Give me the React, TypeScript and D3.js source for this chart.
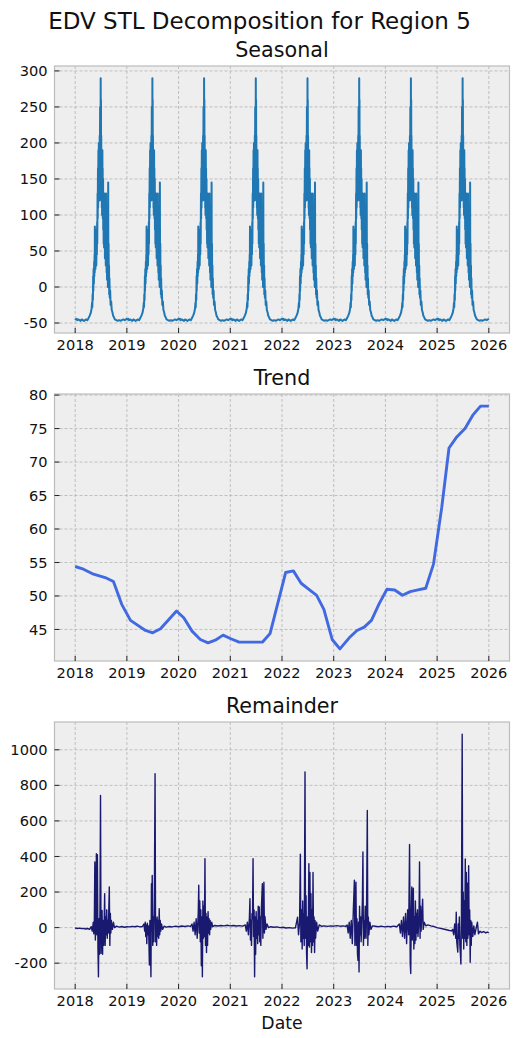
import React from "react";
import * as d3 from "d3";

// ---------- DATA ----------
const YEARS = [2018, 2019, 2020, 2021, 2022, 2023, 2024, 2025];
const X_TICKS = [2018, 2019, 2020, 2021, 2022, 2023, 2024, 2025, 2026];
const SEASONAL_TICKS = [-50, 0, 50, 100, 150, 200, 250, 300];
const TREND_TICKS = [45, 50, 55, 60, 65, 70, 75, 80];
const REMAINDER_TICKS = [-200, 0, 200, 400, 600, 800, 1000];

// one seasonal cycle: [day of year, value] (pattern repeats every year)
const SEASONAL_CYCLE: [number, number][] = [
  [0, -44], [4, -45], [9, -44], [15, -46], [22, -45], [30, -46], [38, -47], [46, -45],
  [54, -46], [62, -47], [70, -46], [78, -45], [86, -46], [92, -44], [97, -42], [102, -40],
  [106, -38], [110, -36], [113, -33], [116, -30], [119, -22], [121, -28], [123, -10], [125, -18],
  [127, 15], [128, -5], [130, 25], [132, 5], [134, 35], [135, 15], [137, 45], [138, 20],
  [139, 84], [140, 35], [142, 60], [143, 25], [145, 80], [146, 40], [148, 55], [149, 30],
  [151, 60], [153, 45], [155, 90], [156, 60], [158, 130], [159, 95], [161, 165], [162, 110],
  [164, 190], [165, 140], [167, 200], [168, 150], [170, 175], [171, 120], [173, 210], [174, 160],
  [176, 250], [177, 190], [178, 230], [179, 170], [180, 290], [181, 200], [182, 260], [183, 150],
  [184, 210], [185, 120], [187, 170], [188, 110], [189, 140], [190, 100], [192, 190], [193, 130],
  [194, 165], [195, 95], [197, 150], [198, 80], [200, 120], [201, 60], [203, 100], [204, 55],
  [206, 130], [207, 70], [209, 95], [210, 40], [212, 96], [213, 50], [215, 75], [216, 30],
  [218, 130], [219, 60], [221, 90], [222, 20], [224, 60], [225, 10], [227, 68], [228, 25],
  [230, 40], [231, 0], [233, 145], [234, 40], [236, 60], [237, 10], [239, 30], [240, -10],
  [242, 12], [244, -15], [247, -5], [250, -25], [254, -20], [258, -32], [263, -35], [268, -40],
  [274, -42], [280, -45], [290, -46], [300, -47], [310, -46], [320, -47], [330, -46], [340, -45],
  [350, -46], [358, -45], [365, -44],
];

// trend: [decimal year, value]
const TREND: [number, number][] = [
  [2018.0, 54.4], [2018.16, 54.0], [2018.355, 53.25], [2018.58, 52.75], [2018.74, 52.15],
  [2018.9, 48.75], [2019.07, 46.35], [2019.36, 44.85], [2019.5, 44.5], [2019.65, 45.1],
  [2019.96, 47.75], [2020.1, 46.75], [2020.26, 44.75], [2020.42, 43.5], [2020.57, 43.0],
  [2020.71, 43.4], [2020.86, 44.15], [2021.0, 43.65], [2021.17, 43.1], [2021.62, 43.1],
  [2021.77, 44.4], [2022.07, 53.5], [2022.22, 53.75], [2022.37, 51.9], [2022.52, 51.0],
  [2022.67, 50.1], [2022.81, 48.0], [2022.97, 43.5], [2023.12, 42.1], [2023.3, 43.75],
  [2023.45, 44.85], [2023.59, 45.35], [2023.73, 46.35], [2023.88, 48.85], [2024.03, 51.0],
  [2024.18, 50.9], [2024.33, 50.1], [2024.48, 50.65], [2024.63, 50.9], [2024.78, 51.15],
  [2024.93, 54.75], [2025.09, 63.25], [2025.23, 72.1], [2025.38, 73.75], [2025.54, 75.0],
  [2025.69, 77.0], [2025.84, 78.35], [2026.0, 78.35],
];

// remainder: [decimal year, value]
const REMAINDER: [number, number][] = [
  [2018.0, -2], [2018.04, -5], [2018.08, -3], [2018.12, -6], [2018.16, -4], [2018.2, -8], [2018.24, -5],
  [2018.28, -10], [2018.31, 5], [2018.33, -20], [2018.35, 30], [2018.36, -35], [2018.37, 10],
  [2018.38, 369], [2018.39, -70], [2018.4, 60], [2018.41, 415], [2018.42, -40], [2018.43, 410],
  [2018.44, -110], [2018.45, -277], [2018.46, 50], [2018.47, -150], [2018.48, 120], [2018.49, 743],
  [2018.5, -145], [2018.51, 30], [2018.52, 97], [2018.53, -150], [2018.54, 40], [2018.55, -100],
  [2018.56, 20], [2018.57, 190], [2018.58, -100], [2018.59, 60], [2018.6, -40], [2018.61, 100],
  [2018.62, -60], [2018.63, 40], [2018.64, -30], [2018.66, 228], [2018.67, -100], [2018.68, 80],
  [2018.69, -30], [2018.7, 40], [2018.72, -10], [2018.74, 30], [2018.76, 0], [2018.8, 8],
  [2018.85, 3], [2018.9, 6], [2018.95, 2], [2019.0, 5], [2019.05, 4], [2019.1, 7], [2019.15, 5],
  [2019.2, 8], [2019.25, 4], [2019.3, 6],
  [2019.33, 20], [2019.345, -20], [2019.355, 30], [2019.365, -50], [2019.375, 15], [2019.385, -90],
  [2019.395, 25], [2019.41, -40], [2019.42, 10], [2019.435, -210], [2019.445, 40], [2019.455, -60],
  [2019.465, -277], [2019.475, 247], [2019.48, -20], [2019.49, 294], [2019.5, -100], [2019.51, 60],
  [2019.52, -80], [2019.53, 100], [2019.545, 865], [2019.555, -80], [2019.565, 48], [2019.575, -100],
  [2019.585, 60], [2019.595, -50], [2019.605, 40], [2019.615, -60], [2019.625, 107], [2019.635, -40],
  [2019.645, 40], [2019.655, -20], [2019.67, 20], [2019.69, -10], [2019.72, 8], [2019.76, 3],
  [2019.82, 6], [2019.88, 4], [2019.94, 8], [2020.0, 5], [2020.06, 9], [2020.12, 6], [2020.18, 10],
  [2020.23, 7],
  [2020.26, 20], [2020.28, -20], [2020.3, 30], [2020.32, -40], [2020.34, 50], [2020.36, -60],
  [2020.38, 80], [2020.39, 238], [2020.4, -30], [2020.41, 150], [2020.42, -80], [2020.43, 100],
  [2020.44, -215], [2020.45, 60], [2020.46, -277], [2020.47, 150], [2020.48, -60], [2020.49, 120],
  [2020.5, -50], [2020.51, 388], [2020.52, -100], [2020.53, 80], [2020.54, -140], [2020.55, 60],
  [2020.56, -100], [2020.57, 90], [2020.58, -30], [2020.59, 50], [2020.6, -40], [2020.61, 40],
  [2020.62, -10], [2020.64, 30], [2020.66, 5], [2020.7, 12], [2020.76, 9], [2020.82, 12],
  [2020.88, 10], [2020.94, 13], [2021.0, 10], [2021.06, 12], [2021.12, 9], [2021.18, 11], [2021.24, 8],
  [2021.29, 15], [2021.31, -20], [2021.33, 30], [2021.35, -40], [2021.37, 60], [2021.38, 163],
  [2021.39, -70], [2021.4, 40], [2021.41, -100], [2021.42, 80], [2021.43, 50], [2021.44, 388],
  [2021.45, -50], [2021.46, 100], [2021.47, -277], [2021.48, 60], [2021.49, -150], [2021.5, 90],
  [2021.51, -60], [2021.52, 40], [2021.53, -90], [2021.54, 120], [2021.55, -40], [2021.56, 116],
  [2021.57, -80], [2021.58, 60], [2021.59, -100], [2021.6, 100], [2021.62, 247], [2021.63, -60],
  [2021.64, 90], [2021.65, 255], [2021.66, -30], [2021.67, 63], [2021.69, -10], [2021.71, 20],
  [2021.74, 0], [2021.78, 5], [2021.84, 2], [2021.9, 4], [2021.96, 0], [2022.02, 2], [2022.08, -2],
  [2022.14, 0], [2022.2, -3], [2022.26, -1],
  [2022.3, 58], [2022.32, -40], [2022.34, 30], [2022.355, 413], [2022.365, -80], [2022.38, 100],
  [2022.39, -120], [2022.4, 150], [2022.41, -60], [2022.42, 80], [2022.43, -100], [2022.445, 876],
  [2022.455, -60], [2022.465, 180], [2022.475, -150], [2022.485, -232], [2022.495, 60],
  [2022.505, -100], [2022.52, 360], [2022.53, -110], [2022.54, 310], [2022.55, -80], [2022.56, 190],
  [2022.57, -140], [2022.58, 100], [2022.59, -100], [2022.6, 310], [2022.61, -80], [2022.62, 60],
  [2022.63, -140], [2022.64, 40], [2022.65, -60], [2022.67, 30], [2022.69, -20], [2022.72, 15],
  [2022.76, 8], [2022.82, 10], [2022.88, 7], [2022.94, 10], [2023.0, 8], [2023.06, 11], [2023.12, 8],
  [2023.18, 10], [2023.23, 7],
  [2023.26, 15], [2023.28, -30], [2023.3, 30], [2023.32, -60], [2023.34, 40], [2023.36, -90],
  [2023.38, 100], [2023.4, 266], [2023.41, -100], [2023.42, 60], [2023.43, 256], [2023.44, -100],
  [2023.45, 50], [2023.46, -150], [2023.47, -184], [2023.48, 30], [2023.49, -249], [2023.5, 120],
  [2023.51, -40], [2023.52, 60], [2023.53, -80], [2023.545, 50], [2023.555, 153], [2023.565, 425],
  [2023.575, -100], [2023.585, 40], [2023.595, -60], [2023.61, 120], [2023.625, -60], [2023.635, 80],
  [2023.65, 659], [2023.66, -100], [2023.67, 60], [2023.68, -40], [2023.7, 30], [2023.72, -10],
  [2023.75, 10], [2023.8, 8], [2023.86, 5], [2023.92, 8], [2023.98, 4], [2024.04, 7], [2024.1, 5],
  [2024.16, 8], [2024.22, 5],
  [2024.27, 20], [2024.29, -30], [2024.31, 40], [2024.33, -50], [2024.35, 60], [2024.37, -60],
  [2024.39, 80], [2024.41, -90], [2024.43, 100], [2024.45, -40], [2024.467, 468], [2024.48, -200],
  [2024.49, -258], [2024.5, 80], [2024.51, 228], [2024.52, -70], [2024.53, 120], [2024.54, 222],
  [2024.55, -120], [2024.56, 60], [2024.57, -90], [2024.58, 150], [2024.59, -70], [2024.6, 80],
  [2024.61, -30], [2024.62, 100], [2024.63, -50], [2024.65, 60], [2024.66, 369], [2024.67, -60],
  [2024.68, 120], [2024.69, -20], [2024.7, 40], [2024.72, 160], [2024.73, -10], [2024.75, 30],
  [2024.78, 10], [2024.82, 15], [2024.88, 10], [2024.94, 6], [2025.0, 0], [2025.06, -4],
  [2025.12, -8], [2025.18, -12], [2025.24, -16], [2025.28, -18],
  [2025.3, -10], [2025.32, -40], [2025.34, 20], [2025.36, -60], [2025.37, 86], [2025.38, -80],
  [2025.4, -138], [2025.41, 20], [2025.42, -60], [2025.43, 60], [2025.44, -100], [2025.45, -146],
  [2025.46, -205], [2025.47, 40], [2025.485, 1088], [2025.495, -60], [2025.505, 200],
  [2025.515, -120], [2025.525, 150], [2025.535, -60], [2025.545, 386], [2025.555, -80],
  [2025.565, 310], [2025.575, -100], [2025.585, 250], [2025.595, -60], [2025.61, 348],
  [2025.62, -40], [2025.63, 100], [2025.64, -195], [2025.65, 40], [2025.66, -100], [2025.67, 30],
  [2025.69, -50], [2025.71, 10], [2025.73, -40], [2025.75, -10], [2025.78, 30], [2025.8, -35],
  [2025.83, -20], [2025.86, -28], [2025.9, -22], [2025.94, -30], [2025.97, -25], [2026.0, -28],
];

// ---------- BUILD SERIES ----------
const SEASONAL: [number, number][] = [];
YEARS.forEach((yr, i) => {
  SEASONAL_CYCLE.forEach(([d, v], j) => {
    if (j === SEASONAL_CYCLE.length - 1 && i < YEARS.length - 1) return;
    SEASONAL.push([yr + d / 365, v]);
  });
});

// ---------- LAYOUT ----------
const W = 519;
const H = 1038;
const LEFT = 54.5;
const RIGHT = 509.5;
const PH = 267;
const TOPS = [66, 394, 722];
const FONT = "DejaVu Sans, sans-serif";

const x = d3.scaleLinear().domain([2017.6, 2026.4]).range([LEFT, RIGHT]);

function paddedDomain(data: [number, number][]): [number, number] {
  const [lo, hi] = d3.extent(data, (d) => d[1]) as [number, number];
  const pad = (hi - lo) * 0.05;
  return [lo - pad, hi + pad];
}

type PanelProps = {
  top: number;
  title: string;
  data: [number, number][];
  ticks: number[];
  color: string;
  width: number;
};

function Panel({ top, title, data, ticks, color, width }: PanelProps) {
  const bottom = top + PH;
  const y = d3.scaleLinear().domain(paddedDomain(data)).range([bottom, top]);
  const line = d3
    .line<[number, number]>()
    .x((d) => x(d[0]))
    .y((d) => y(d[1]));
  const clipId = "clip" + top;
  return (
    <g>
      <defs>
        <clipPath id={clipId}>
          <rect x={LEFT} y={top} width={RIGHT - LEFT} height={PH} />
        </clipPath>
      </defs>
      <rect x={LEFT} y={top} width={RIGHT - LEFT} height={PH} fill="#eeeeee" />
      {X_TICKS.map((t) => (
        <line key={"gx" + t} x1={x(t)} x2={x(t)} y1={top} y2={bottom}
          stroke="#b2b2b2" strokeWidth={0.8} strokeDasharray="3,2" />
      ))}
      {ticks.map((t) => (
        <line key={"gy" + t} x1={LEFT} x2={RIGHT} y1={y(t)} y2={y(t)}
          stroke="#b2b2b2" strokeWidth={0.8} strokeDasharray="3,2" />
      ))}
      <path d={line(data) || ""} fill="none" stroke={color} strokeWidth={width}
        strokeLinejoin="round" clipPath={`url(#${clipId})`} />
      <rect x={LEFT} y={top} width={RIGHT - LEFT} height={PH} fill="none"
        stroke="#bcbcbc" strokeWidth={1.2} />
      {X_TICKS.map((t) => (
        <g key={"tx" + t}>
          <line x1={x(t)} x2={x(t)} y1={bottom} y2={bottom - 5} stroke="#222" strokeWidth={1} />
          <text x={x(t)} y={bottom + 17} textAnchor="middle" fontSize={14.6}
            fontFamily={FONT} fill="#111">{t}</text>
        </g>
      ))}
      {ticks.map((t) => (
        <g key={"ty" + t}>
          <line x1={LEFT} x2={LEFT + 5} y1={y(t)} y2={y(t)} stroke="#222" strokeWidth={1} />
          <text x={LEFT - 7} y={y(t)} dy="0.35em" textAnchor="end" fontSize={14.6}
            fontFamily={FONT} fill="#111">{t}</text>
        </g>
      ))}
      <text x={(LEFT + RIGHT) / 2} y={top - 9} textAnchor="middle" fontSize={20.7}
        fontFamily={FONT} fill="#111">{title}</text>
    </g>
  );
}

export default function App() {
  return (
    <svg width={W} height={H} style={{ position: "absolute", left: 0, top: 0, background: "#fff" }}>
      <rect x={0} y={0} width={W} height={H} fill="#ffffff" />
      <text x={W / 2} y={29} textAnchor="middle" fontSize={23} fontFamily={FONT} fill="#111">
        EDV STL Decomposition for Region 5
      </text>
      <Panel top={TOPS[0]} title="Seasonal" data={SEASONAL} ticks={SEASONAL_TICKS} color="#1f77b4" width={2} />
      <Panel top={TOPS[1]} title="Trend" data={TREND} ticks={TREND_TICKS} color="#4169e1" width={2.9} />
      <Panel top={TOPS[2]} title="Remainder" data={REMAINDER} ticks={REMAINDER_TICKS} color="#191970" width={1.4} />
      <text x={(LEFT + RIGHT) / 2} y={1029} textAnchor="middle" fontSize={17.3} fontFamily={FONT} fill="#111">
        Date
      </text>
    </svg>
  );
}
